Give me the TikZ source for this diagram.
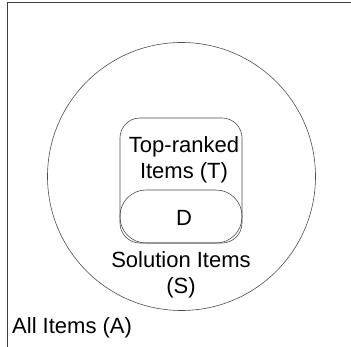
\documentclass[tikz,border=0pt]{standalone}
\usepackage{fontspec}
\setmainfont{Liberation Sans}
\begin{document}
\begin{tikzpicture}[x=1pt,y=-1pt,
  frame/.style={draw=black!75,line width=0.8pt},
  setline/.style={draw=black!70,line width=0.6pt},
  lbl/.style={font=\fontsize{22}{26}\selectfont,align=center,inner sep=0pt}]
\useasboundingbox (0,0) rectangle (351,347);
\coordinate (ftl) at (7,2);
\coordinate (ftr) at (351,2);
\coordinate (fbl) at (7,347);
\draw[frame] (ftr) -- (ftl) -- (fbl);
\node[setline,circle,minimum size=268pt,inner sep=0pt] (S) at (181.5,176.5) {};
\node[setline,rounded corners=20pt,minimum width=122pt,minimum height=125pt,inner sep=0pt] (T) at (181,180.5) {};
\node[setline,rounded corners=26pt,minimum width=122pt,minimum height=53pt,inner sep=0pt] (D) at (181,216.5) {};
\node[lbl] (tl) at (184,160) {Top-ranked\\Items (T)};
\node[lbl] (dl) at (184,218) {D};
\node[lbl] (sl) at (181,274.5) {Solution Items\\(S)};
\node[lbl,anchor=west] (al) at (12,328) {All Items (A)};
\end{tikzpicture}
\end{document}
